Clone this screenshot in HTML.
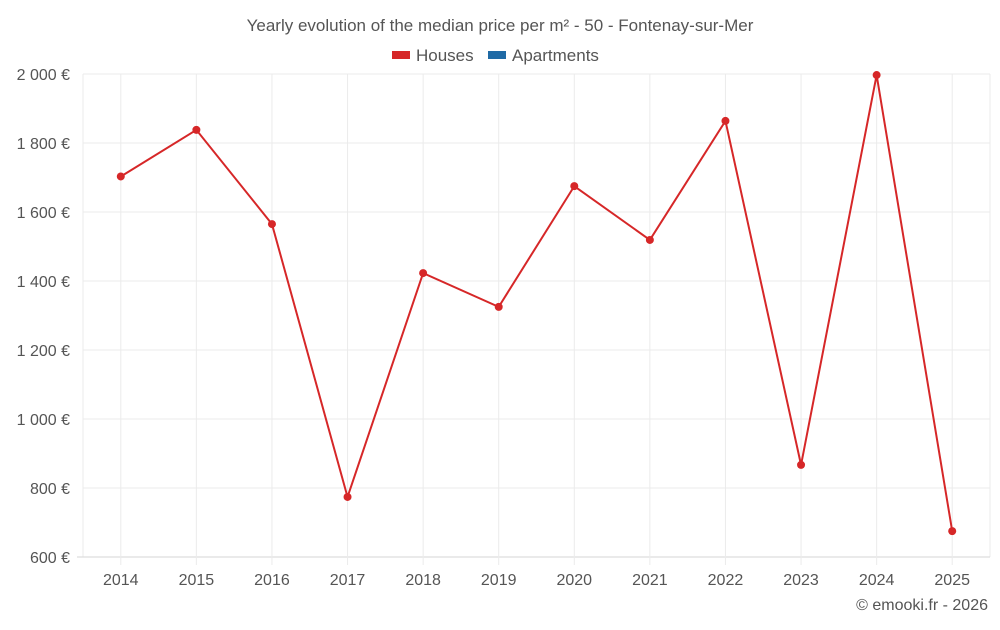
<!DOCTYPE html>
<html><head><meta charset="utf-8"><style>
body{margin:0;background:#fff;font-family:"Liberation Sans",sans-serif}
svg text{font-family:"Liberation Sans",sans-serif}
</style></head><body>
<svg id="c" width="1000" height="625">
<text x="500" y="31" text-anchor="middle" font-size="17" fill="#555">Yearly evolution of the median price per m² - 50 - Fontenay-sur-Mer</text>
<g><rect x="392" y="51" width="18" height="8" fill="#d62728"/><text x="416" y="61" font-size="17" fill="#555">Houses</text></g>
<g><rect x="488" y="51" width="18" height="8" fill="#1f6aa5"/><text x="512" y="61" font-size="17" fill="#555">Apartments</text></g>
<g id="grid"></g><g id="marks"></g>
<text x="988" y="610" text-anchor="end" font-size="16" fill="#555">© emooki.fr - 2026</text>
</svg>
<script>
const years=[2014,2015,2016,2017,2018,2019,2020,2021,2022,2023,2024,2025];
const houses=[1703,1838,1565,774,1423,1325,1675,1519,1864,867,1997,675];
const yTicks=[600,800,1000,1200,1400,1600,1800,2000];
const yTickLabels=["600 €","800 €","1 000 €","1 200 €","1 400 €","1 600 €","1 800 €","2 000 €"];
const L=83,R=990,T=74,B=557,ymin=600,ymax=2000;
const bw=(R-L)/years.length;
const xs=i=>L+bw*(i+0.5);
const ys=v=>B-(v-ymin)/(ymax-ymin)*(B-T);
const NS="http://www.w3.org/2000/svg";
const g=document.getElementById('grid'),m=document.getElementById('marks');
function mk(tag,at,p){const e=document.createElementNS(NS,tag);for(const k in at)e.setAttribute(k,at[k]);p.appendChild(e);return e;}
[L,R].forEach(x=>{
 const l=mk('line',{x1:x,x2:x,y1:T,y2:B,stroke:'#ebebeb'},g);
 
 
});
yTicks.forEach((v,i)=>{
 const l=mk('line',{x1:i==0?77:L,x2:R,y1:ys(v),y2:ys(v),stroke:i==0?'#d6d6d6':'#ebebeb'},g);
 
 
 const t=mk('text',{x:70,y:ys(v)+6,'text-anchor':'end','font-size':16,fill:'#555'},g);
 t.textContent=yTickLabels[i];
 
 
});
years.forEach((y,i)=>{
 const l=mk('line',{x1:xs(i),x2:xs(i),y1:T,y2:B+8,stroke:'#ebebeb'},g);
 
 
 const t=mk('text',{x:xs(i),y:585,'text-anchor':'middle','font-size':16,fill:'#555'},g);
 t.textContent=y;
 
 
});
const pl=mk('polyline',{points:houses.map((v,i)=>xs(i)+','+ys(v)).join(' '),fill:'none',stroke:'#d62728','stroke-width':2},m);


houses.forEach((v,i)=>{
 const c=mk('circle',{cx:xs(i),cy:ys(v),r:4,fill:'#d62728'},m);
 
 
});
</script>
</body></html>
